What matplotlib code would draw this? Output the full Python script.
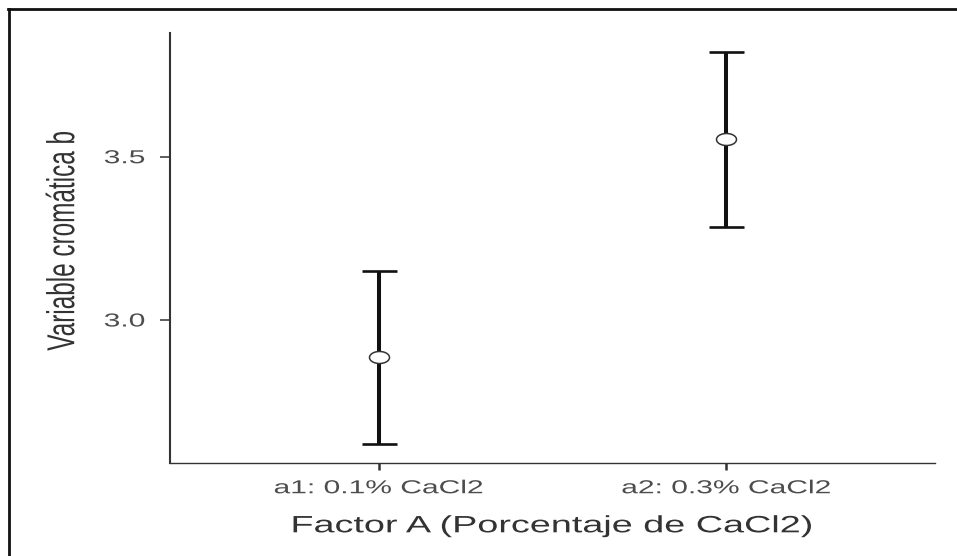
import numpy as np
import matplotlib
matplotlib.use("Agg")
import matplotlib.pyplot as plt
from matplotlib import patheffects
from matplotlib.path import Path
from matplotlib.transforms import Affine2D
from matplotlib.lines import Line2D

# ---- data ----
categories = ["a1: 0.1% CaCl2", "a2: 0.3% CaCl2"]
means = [2.886, 3.554]
ci_lower = [2.619, 3.286]
ci_upper = [3.151, 3.820]
yticks = [3.0, 3.5]
ytick_labels = ["3.0", "3.5"]
xlabel = "Factor A (Porcentaje de CaCl2)"
ylabel = "Variable cromática b"

STRETCH = 1.6  # horizontal stretch present in the reference picture


class Stretch(patheffects.AbstractPathEffect):
    """Stretch glyphs along local x or y about an anchor of the ink box."""

    def __init__(self, sx=1.0, sy=1.0, anchor="center"):
        super().__init__()
        self.sx, self.sy, self.anchor = sx, sy, anchor

    def draw_path(self, renderer, gc, tpath, affine, rgbFace=None):
        ext = tpath.get_extents()
        if self.anchor == "right":
            cx = ext.x1
        elif self.anchor == "left":
            cx = ext.x0
        else:
            cx = (ext.x0 + ext.x1) / 2
        cy = (ext.y0 + ext.y1) / 2
        pre = Affine2D().translate(-cx, -cy).scale(self.sx, self.sy).translate(cx, cy)
        renderer.draw_path(gc, tpath, pre + affine, rgbFace)


plt.rcParams["font.family"] = ["Liberation Sans", "DejaVu Sans"]

W, H = 957, 556
fig = plt.figure(figsize=(W / 100, H / 100), dpi=100)
ax = fig.add_axes([170 / W, 1 - 463.3 / H, (935 - 170) / W, (463.3 - 33.3) / H])

x = np.arange(len(categories))
m = np.array(means)
lo = np.array(ci_lower)
hi = np.array(ci_upper)

ax.errorbar(x, m, yerr=[m - lo, hi - m], fmt="none", ecolor="#111111",
            elinewidth=2.9, capsize=12.6, capthick=1.9, zorder=2)

theta = np.linspace(0, 2 * np.pi, 60)
ell = Path(np.column_stack([1.0 * np.cos(theta), 0.6 * np.sin(theta)]), closed=True)
ax.plot(x, m, linestyle="none", marker=ell, markersize=14.4,
        markerfacecolor="white", markeredgecolor="#333333",
        markeredgewidth=1.1, zorder=3)

ax.set_xlim(-0.6, 1.6)
ax.set_ylim(2.561, 3.878)
ax.set_xticks(x)
ax.set_xticklabels(categories)
ax.set_yticks(yticks)
ax.set_yticklabels(ytick_labels)

for s in ["top", "right"]:
    ax.spines[s].set_visible(False)
ax.spines["left"].set_color("#333333")
ax.spines["left"].set_linewidth(1.5)
ax.spines["bottom"].set_color("#333333")
ax.spines["bottom"].set_linewidth(1.0)

ax.tick_params(axis="y", length=7.2, width=1.1, color="#333333", pad=10.8,
               labelsize=13.5, labelcolor="#4d4d4d")
ax.tick_params(axis="x", length=5.0, width=1.8, color="#333333", pad=7.2,
               labelsize=13.5, labelcolor="#4d4d4d")

for lab in ax.get_yticklabels():
    lab.set_path_effects([Stretch(sx=STRETCH, anchor="right")])
for lab in ax.get_xticklabels():
    lab.set_path_effects([Stretch(sx=STRETCH)])

ax.set_xlabel(xlabel, fontsize=17, color="#333333", va="center",
              path_effects=[Stretch(sx=STRETCH)])
ax.xaxis.set_label_coords(0.5, -0.1465)
ax.set_ylabel(ylabel, fontsize=17.5, color="#333333", va="center",
              path_effects=[Stretch(sy=STRETCH)])
ax.yaxis.set_label_coords(-0.14, 0.516)

# outer frame (top and left edges of the cropped figure box)
fig.add_artist(Line2D([8 / W, 1.0], [1 - 8.5 / H, 1 - 8.5 / H],
                      transform=fig.transFigure, color="#111111", linewidth=2.0))
fig.add_artist(Line2D([8.5 / W, 8.5 / W], [0.0, 1 - 8.5 / H],
                      transform=fig.transFigure, color="#111111", linewidth=2.0))

fig.savefig("out.png", dpi=100)
